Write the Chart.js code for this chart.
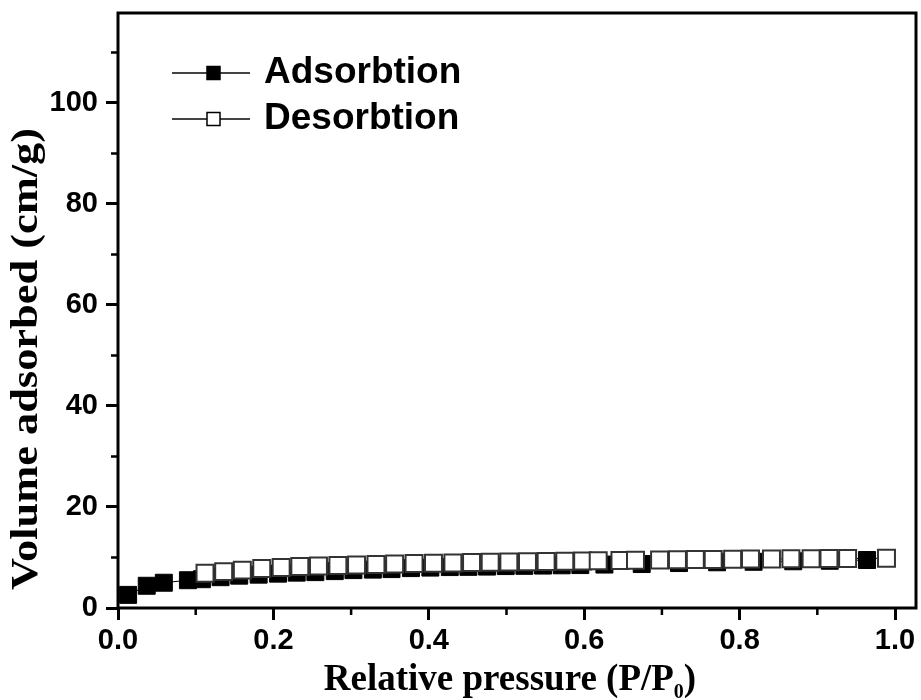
<!DOCTYPE html>
<html>
<head>
<meta charset="utf-8">
<script src="https://cdn.jsdelivr.net/npm/chart.js@4.4.1/dist/chart.umd.min.js"></script>
<style>
  html, body { margin: 0; padding: 0; background: #fff; }
  #wrap { width: 921px; height: 700px; }
</style>
</head>
<body>
<div id="wrap"><canvas id="chart-iso" width="921" height="700"></canvas></div>
<script>
// Isoterma de N2: rama de adsorción (cuadros llenos) y de desorción (cuadros huecos)

const seriesNames = ['Adsorbtion', 'Desorbtion'];

const adsP = [0.013, 0.037, 0.059, 0.090, 0.108, 0.132, 0.156, 0.181, 0.206, 0.230,
  0.254, 0.279, 0.303, 0.328, 0.352, 0.377, 0.402, 0.427, 0.451, 0.475,
  0.499, 0.523, 0.547, 0.571, 0.595, 0.626, 0.674, 0.722, 0.771, 0.818,
  0.869, 0.916, 0.964];
const adsV = [2.6, 4.4, 5.0, 5.5, 5.7, 6.1, 6.4, 6.6, 6.8, 7.0,
  7.1, 7.3, 7.5, 7.6, 7.7, 7.9, 8.0, 8.1, 8.15, 8.2,
  8.3, 8.35, 8.4, 8.45, 8.5, 8.6, 8.7, 8.9, 9.05, 9.15,
  9.25, 9.35, 9.5];

const desP = [0.112, 0.136, 0.160, 0.185, 0.210, 0.234, 0.258, 0.283, 0.307, 0.332,
  0.356, 0.381, 0.406, 0.431, 0.455, 0.479, 0.503, 0.527, 0.551, 0.575,
  0.598, 0.618, 0.646, 0.666, 0.697, 0.720, 0.743, 0.766, 0.791, 0.814,
  0.841, 0.866, 0.892, 0.915, 0.939, 0.989];
const desV = [6.9, 7.2, 7.5, 7.8, 8.0, 8.2, 8.3, 8.4, 8.5, 8.6,
  8.7, 8.8, 8.85, 8.9, 9.0, 9.05, 9.1, 9.15, 9.2, 9.25,
  9.3, 9.35, 9.4, 9.45, 9.5, 9.55, 9.6, 9.6, 9.65, 9.7,
  9.7, 9.75, 9.75, 9.8, 9.8, 9.85];

// marcas menores (sin etiqueta)
const xMinor = [0.1, 0.3, 0.5, 0.7, 0.9];
const yMinor = [10, 30, 50, 70, 90, 110];

const SANS = '"Liberation Sans", Arial, sans-serif';
const SERIF = '"Liberation Serif", "Times New Roman", serif';

const toXY = (xs, ys) => xs.map((x, i) => ({ x, y: ys[i] }));

/** Marco, marcas menores, títulos de ejes y leyenda. */
const decor = {
  id: 'decor',
  afterDraw(chart) {
    const { ctx, chartArea: a, scales: { x, y } } = chart;
    ctx.save();
    ctx.strokeStyle = '#000';
    ctx.lineWidth = 3;
    ctx.strokeRect(a.left, a.top, a.right - a.left, a.bottom - a.top);

    ctx.lineWidth = 2.5;
    ctx.beginPath();
    xMinor.forEach(v => { const px = x.getPixelForValue(v); ctx.moveTo(px, a.bottom); ctx.lineTo(px, a.bottom + 7); });
    yMinor.forEach(v => { const py = y.getPixelForValue(v); ctx.moveTo(a.left, py); ctx.lineTo(a.left - 7, py); });
    ctx.stroke();

    // título eje X con subíndice
    ctx.fillStyle = '#000';
    ctx.textBaseline = 'alphabetic';
    const big = 'bold 37px ' + SERIF, small = 'bold 20px ' + SERIF;
    const parts = [['Relative pressure (P/P', big, 0], ['0', small, 8], [')', big, 0]];
    let w = 0;
    parts.forEach(([t, f]) => { ctx.font = f; w += ctx.measureText(t).width; });
    let cx = 510 - w / 2;
    parts.forEach(([t, f, dy]) => { ctx.font = f; ctx.fillText(t, cx, 690 + dy); cx += ctx.measureText(t).width; });

    // título eje Y (letra alargada a lo largo del eje)
    ctx.save();
    ctx.translate(37, 359);
    ctx.rotate(-Math.PI / 2);
    ctx.scale(1.2, 1);
    ctx.font = 'bold 37px ' + SERIF;
    ctx.textAlign = 'center';
    ctx.fillText('Volume adsorbed (cm/g)', 0, 0);
    ctx.restore();

    // leyenda: línea + símbolo + texto
    const rows = [{ y: 73, fill: '#000' }, { y: 119, fill: '#fff' }];
    rows.forEach((r, i) => {
      ctx.strokeStyle = '#444';
      ctx.lineWidth = 2;
      ctx.beginPath(); ctx.moveTo(172, r.y); ctx.lineTo(250, r.y); ctx.stroke();
      ctx.fillStyle = r.fill;
      ctx.fillRect(207, r.y - 6.5, 13, 13);
      ctx.strokeStyle = '#000';
      ctx.lineWidth = 1.5;
      ctx.strokeRect(207, r.y - 6.5, 13, 13);
      ctx.fillStyle = '#000';
      ctx.font = 'bold 37px ' + SANS;
      ctx.textBaseline = 'middle';
      ctx.fillText(seriesNames[i], 264, r.y);
    });
    ctx.restore();
  },
};

new Chart(document.getElementById('chart-iso'), {
  type: 'scatter',
  data: {
    datasets: [
      {
        label: seriesNames[0], data: toXY(adsP, adsV), showLine: true, order: 1,
        borderColor: '#000', borderWidth: 1,
        pointStyle: 'rect', pointRadius: 12, pointBackgroundColor: '#000', pointBorderColor: '#000', pointBorderWidth: 1,
      },
      {
        label: seriesNames[1], data: toXY(desP, desV), showLine: true, order: 0,
        borderColor: '#000', borderWidth: 1,
        pointStyle: 'rect', pointRadius: 12, pointBackgroundColor: '#fff', pointBorderColor: '#333', pointBorderWidth: 2,
      },
    ],
  },
  options: {
    responsive: false,
    animation: false,
    devicePixelRatio: 1,
    layout: { autoPadding: false, padding: { left: 0, top: 13, right: 5, bottom: 0 } },
    plugins: { legend: { display: false }, tooltip: { enabled: false } },
    scales: {
      x: {
        type: 'linear', min: 0, max: 1.027,
        afterFit: s => { s.height = 92; s.paddingLeft = 0; s.paddingRight = 0; },
        border: { display: false },
        grid: { drawOnChartArea: false, drawTicks: true, tickLength: 12, tickWidth: 3, tickColor: '#000' },
        ticks: {
          stepSize: 0.2, includeBounds: false, padding: 4, color: '#000',
          font: { family: SANS, size: 29, weight: 'bold' },
          callback: v => v.toFixed(1),
        },
      },
      y: {
        type: 'linear', min: 0, max: 117.8,
        afterFit: s => { s.width = 118; s.paddingTop = 0; s.paddingBottom = 0; },
        border: { display: false },
        grid: { drawOnChartArea: false, drawTicks: true, tickLength: 12, tickWidth: 3, tickColor: '#000' },
        ticks: {
          stepSize: 20, includeBounds: false, padding: 8, color: '#000',
          font: { family: SANS, size: 29, weight: 'bold' },
        },
      },
    },
  },
  plugins: [decor],
});
</script>
</body>
</html>
